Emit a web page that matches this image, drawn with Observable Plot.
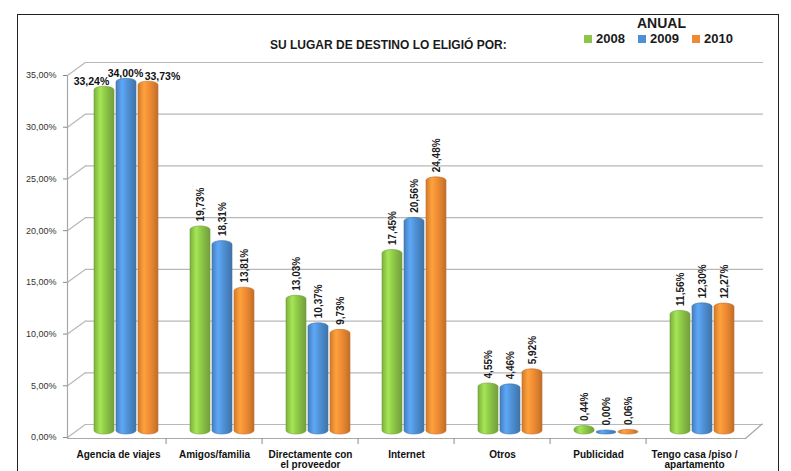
<!DOCTYPE html>
<html>
<head>
<meta charset="utf-8">
<script src="https://cdn.jsdelivr.net/npm/d3@7"></script>
<script src="https://cdn.jsdelivr.net/npm/@observablehq/plot@0.6"></script>
<style>
  html, body { margin: 0; padding: 0; background: #fff; overflow: hidden; }
  #wrap { position: relative; width: 791px; height: 471px; overflow: hidden; font-family: "Liberation Sans", Arial, sans-serif; }
  #chart { position: absolute; left: 0; top: 0; }
  #border { position: absolute; left: 17px; top: 14px; width: 762px; height: 500px; border: 1.5px solid #222; box-sizing: border-box; }
  .t { position: absolute; white-space: nowrap; line-height: 1; font-weight: bold; color: #1a1a1a; }
  .sw { position: absolute; width: 8px; height: 8px; }
</style>
</head>
<body>
<div id="wrap">
  <div id="border"></div>
  <div id="chart"></div>
  <div class="t" id="title" style="left:270px; top:39px; font-size:12px;">SU LUGAR DE DESTINO LO ELIGIÓ POR:</div>
  <div class="t" id="legTitle" style="left:637px; top:16px; font-size:14px;">ANUAL</div>
  <div id="legend"></div>
</div>
<script>
const categories = ["Agencia de viajes", "Amigos/familia", "Directamente con\nel proveedor", "Internet", "Otros", "Publicidad", "Tengo casa /piso /\napartamento"];
const years = ["2008", "2009", "2010"];
const v2008 = [33.24, 19.73, 13.03, 17.45, 4.55, 0.44, 11.56];
const v2009 = [34.00, 18.31, 10.37, 20.56, 4.46, 0.00, 12.30];
const v2010 = [33.73, 13.81, 9.73, 24.48, 5.92, 0.06, 12.27];
const yTicks = [0, 5, 10, 15, 20, 25, 30, 35];

const series = {"2008": v2008, "2009": v2009, "2010": v2010};
const rows = years.flatMap(yr => categories.map((c, i) => ({cat: c, year: yr, value: series[yr][i]})));

const colors = {"2008": "#8cc548", "2009": "#4f8fd3", "2010": "#ee8a33"};
const barDx = {"2008": -14, "2009": 8, "2010": 30};
const firstLabelDx = {"2008": -27, "2009": 7, "2010": 44};

const fmt = v => v.toFixed(2).replace(".", ",") + "%";
const lineShape = {draw(context, l) { context.moveTo(0, 0); context.lineTo(0, -l); }};
const font = "'Liberation Sans', Arial, sans-serif";

const marks = [
  // back wall gridlines
  Plot.ruleY(yTicks, {y: d => d, dx: 18, dy: -8, stroke: "#b8b8b8", strokeWidth: 1.2}),
  // side wall diagonals
  Plot.vector(yTicks, {y: d => d, frameAnchor: "left", dy: 5, length: 22, rotate: 54, anchor: "start", shape: lineShape, stroke: "#b8b8b8", strokeWidth: 1.2}),
  // front floor line
  Plot.ruleY([0], {y: d => d, dy: 6, stroke: "#a8a8a8", strokeWidth: 1.2}),
  // right floor diagonal
  Plot.vector([0], {y: d => d, frameAnchor: "right", dy: 6, length: 22, rotate: 49, anchor: "start", shape: lineShape, stroke: "#a8a8a8", strokeWidth: 1.2}),
  // front y axis line
  Plot.vector([0], {y: d => d, frameAnchor: "left", dy: 6, length: 363, rotate: 0, anchor: "start", shape: lineShape, stroke: "#a8a8a8", strokeWidth: 1.2}),
  // category boundary ticks
  Plot.vector(categories.slice(1), {x: d => d, y: () => 0, dx: -48.43, dy: 6, length: 5, rotate: 180, anchor: "start", shape: lineShape, stroke: "#888", strokeWidth: 1}),
  // y axis
  Plot.axisY(yTicks, {tickSize: 4, tickPadding: 7, dy: 5, tickFormat: fmt, fontSize: 9, fill: "#333", stroke: "#888", label: null}),
  // x axis labels
  Plot.axisX({tickSize: 0, tickPadding: 18, fontSize: 10, fontWeight: "bold", fill: "#111", lineHeight: 1.05, label: null})
];

for (const yr of years) {
  const data = rows.filter(d => d.year === yr);
  marks.push(Plot.barY(data, {
    x: "cat", y: "value", dx: barDx[yr], insetLeft: 38, insetRight: 38,
    insetTop: -2, insetBottom: -2, rx: 10.5, ry: 3.5,
    fill: `url(#grad${yr})`, stroke: d3.color(colors[yr]).darker(0.6).formatHex(), strokeWidth: 0.6
  }));
  marks.push(Plot.text(data.filter(d => d.cat === categories[0]), {
    x: "cat", y: "value", text: d => fmt(d.value), dx: firstLabelDx[yr], dy: -4,
    lineAnchor: "bottom", fontSize: 10.5, fontWeight: "bold", fill: "#111"
  }));
  marks.push(Plot.text(data.filter(d => d.cat !== categories[0]), {
    x: "cat", y: "value", text: d => fmt(d.value), dx: barDx[yr], dy: -7,
    rotate: -90, textAnchor: "start", lineAnchor: "middle", fontSize: 10, fontWeight: "bold", fill: "#1a1a1a"
  }));
}

const chart = Plot.plot({
  width: 791,
  height: 471,
  marginLeft: 67,
  marginRight: 46,
  marginTop: 70,
  marginBottom: 39,
  x: {domain: categories, padding: 0, label: null},
  y: {domain: [0, 35], label: null},
  style: {fontFamily: font, background: "transparent", overflow: "visible"},
  marks
});

// cylinder-like gradients
const defs = d3.select(chart).insert("defs", ":first-child");
for (const yr of years) {
  const c = d3.color(colors[yr]);
  const g = defs.append("linearGradient").attr("id", `grad${yr}`).attr("x1", 0).attr("x2", 1).attr("y1", 0).attr("y2", 0);
  g.append("stop").attr("offset", "0%").attr("stop-color", c.darker(0.35).formatHex());
  g.append("stop").attr("offset", "30%").attr("stop-color", c.brighter(0.45).formatHex());
  g.append("stop").attr("offset", "60%").attr("stop-color", c.formatHex());
  g.append("stop").attr("offset", "100%").attr("stop-color", c.darker(0.6).formatHex());
}
document.getElementById("chart").appendChild(chart);

// legend
const legendPos = {"2008": 584, "2009": 638, "2010": 692};
const legend = document.getElementById("legend");
for (const yr of years) {
  const sw = document.createElement("div");
  sw.className = "sw";
  sw.style.left = legendPos[yr] + "px";
  sw.style.top = "35px";
  sw.style.background = colors[yr];
  legend.appendChild(sw);
  const t = document.createElement("div");
  t.className = "t";
  t.style.left = (legendPos[yr] + 12) + "px";
  t.style.top = "32px";
  t.style.fontSize = "13px";
  t.textContent = yr;
  legend.appendChild(t);
}
</script>
</body>
</html>
